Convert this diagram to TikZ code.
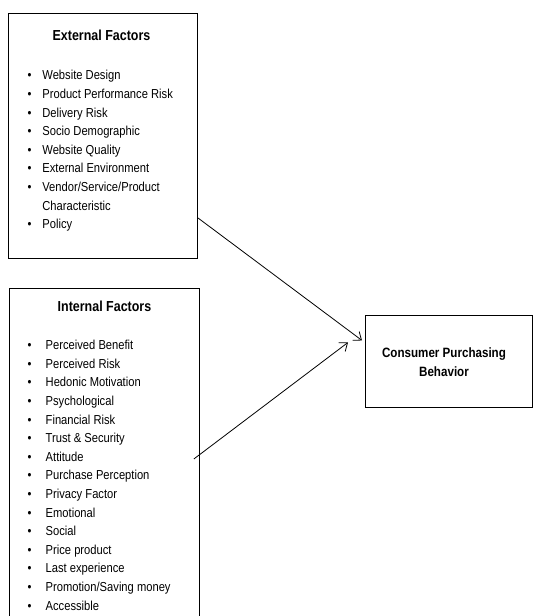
\documentclass[tikz,border=0pt]{standalone}
\usepackage{fontspec}
\setmainfont{Liberation Sans}[FakeStretch=0.86]
\usetikzlibrary{arrows.meta,calc}
\newcommand{\itm}[2]{\makebox[#1][l]{\textbullet}#2}

\begin{document}
\begin{tikzpicture}[x=1pt,y=-1pt,>={Straight Barb[length=7pt,width=11pt]},
  factorbox/.style={draw,line width=0.9pt,anchor=north west,inner sep=0pt},
  boxtitle/.style={inner sep=0pt,font=\fontsize{14.5}{17}\selectfont\bfseries},
  itemlist/.style={anchor=north west,align=left,inner sep=0pt,font=\fontsize{13}{18.6}\selectfont}]
\clip (0,0) rectangle (533,616);
% the three boxes
\node[factorbox,minimum width=189,minimum height=245] (ext) at (8,13) {};
\node[factorbox,minimum width=190,minimum height=345] (int) at (9,288) {};
\node[factorbox,minimum width=167,minimum height=92] (cpb) at (365,315) {};
% titles
\node[boxtitle] (exttitle) at (101.5,35) {External Factors};
\node[boxtitle] (inttitle) at (104.5,306) {Internal Factors};
\node[inner sep=0pt,align=center,font=\fontsize{13.5}{19}\selectfont\bfseries] (cpbtext) at (444,362) {Consumer Purchasing\\Behavior};
% item lists
\node[itemlist] (extlist) at (27.5,70.2) {\itm{14.7pt}{Website Design}\\
  \itm{14.7pt}{Product Performance Risk}\\
  \itm{14.7pt}{Delivery Risk}\\
  \itm{14.7pt}{Socio Demographic}\\
  \itm{14.7pt}{Website Quality}\\
  \itm{14.7pt}{External Environment}\\
  \itm{14.7pt}{Vendor/Service/Product}\\
  \hspace*{14.7pt}Characteristic\\
  \itm{14.7pt}{Policy}};
\node[itemlist] (intlist) at (27.5,340) {\itm{18pt}{Perceived Benefit}\\
  \itm{18pt}{Perceived Risk}\\
  \itm{18pt}{Hedonic Motivation}\\
  \itm{18pt}{Psychological}\\
  \itm{18pt}{Financial Risk}\\
  \itm{18pt}{Trust \& Security}\\
  \itm{18pt}{Attitude}\\
  \itm{18pt}{Purchase Perception}\\
  \itm{18pt}{Privacy Factor}\\
  \itm{18pt}{Emotional}\\
  \itm{18pt}{Social}\\
  \itm{18pt}{Price product}\\
  \itm{18pt}{Last experience}\\
  \itm{18pt}{Promotion/Saving money}\\
  \itm{18pt}{Accessible}};
% connectors
\draw[->,line width=0.8pt] ($(ext.south east)+(0,-41)$) -- ($(cpb.west)+(-3,-21)$);
\draw[->,line width=0.8pt] ($(int.east)+(-6,-2)$) -- ($(cpb.west)+(-17,-19)$);
\end{tikzpicture}
\end{document}
